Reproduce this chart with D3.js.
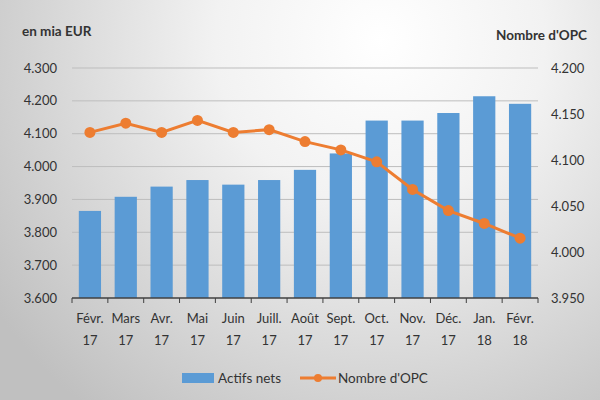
<!DOCTYPE html>
<html>
<head>
<meta charset="utf-8">
<script src="https://cdn.jsdelivr.net/npm/d3@7"></script>
<style>
  body { margin: 0; }
  text { font-family: Lato, "Noto Sans", sans-serif; fill: #333333; }
</style>
</head>
<body>
<div id="chart"></div>
<script>
// data
const months = ["Févr.", "Mars", "Avr.", "Mai", "Juin", "Juill.", "Août", "Sept.", "Oct.", "Nov.", "Déc.", "Jan.", "Févr."];
const years = ["17", "17", "17", "17", "17", "17", "17", "17", "17", "17", "17", "18", "18"];
const actifsNets = [3865, 3908, 3939, 3959, 3945, 3959, 3990, 4040, 4140, 4140, 4163, 4214, 4191];
const nombreOPC = [4130, 4140, 4130, 4143, 4130, 4133, 4120, 4111, 4098, 4068, 4045, 4031, 4015];
const leftTicks = [3600, 3700, 3800, 3900, 4000, 4100, 4200, 4300];
const rightTicks = [3950, 4000, 4050, 4100, 4150, 4200];

const width = 600, height = 400;
const margin = { top: 68, right: 62, bottom: 102, left: 72 };

const fmt = d => d3.format(",.3f")(d / 1000).replace(",", "");

const svg = d3.select("#chart")
  .append("svg")
  .attr("width", width)
  .attr("height", height);

// background gradient
const defs = svg.append("defs");
const grad = defs.append("radialGradient")
  .attr("id", "bg")
  .attr("gradientUnits", "userSpaceOnUse")
  .attr("cx", 380).attr("cy", 40).attr("r", 470);
grad.append("stop").attr("offset", "0%").attr("stop-color", "#ffffff");
grad.append("stop").attr("offset", "35%").attr("stop-color", "#f2f2f2");
grad.append("stop").attr("offset", "100%").attr("stop-color", "#c0c0c0");
svg.append("rect").attr("width", width).attr("height", height).attr("fill", "url(#bg)");

const x = d3.scaleBand()
  .domain(d3.range(months.length))
  .range([margin.left, width - margin.right])
  .paddingInner(0.38)
  .paddingOuter(0.19);

const yL = d3.scaleLinear()
  .domain([3600, 4300])
  .range([height - margin.bottom, margin.top]);

const yR = d3.scaleLinear()
  .domain([3950, 4200])
  .range([height - margin.bottom, margin.top]);

// gridlines
svg.append("g")
  .selectAll("line")
  .data(leftTicks.slice(1))
  .enter()
  .append("line")
  .attr("x1", margin.left)
  .attr("x2", width - margin.right)
  .attr("y1", d => yL(d))
  .attr("y2", d => yL(d))
  .attr("stroke", "#bdbdbd")
  .attr("stroke-width", 1);

// left axis labels
svg.append("g")
  .selectAll("text")
  .data(leftTicks)
  .enter()
  .append("text")
  .attr("x", 57)
  .attr("y", d => yL(d))
  .attr("dy", "0.35em")
  .attr("text-anchor", "end")
  .style("font-size", "13px")
  .text(fmt);

// right axis labels
svg.append("g")
  .selectAll("text")
  .data(rightTicks)
  .enter()
  .append("text")
  .attr("x", 551)
  .attr("y", d => yR(d))
  .attr("dy", "0.35em")
  .attr("text-anchor", "start")
  .style("font-size", "13px")
  .text(fmt);

// bars
svg.append("g")
  .selectAll("rect")
  .data(actifsNets)
  .enter()
  .append("rect")
  .attr("x", (d, i) => x(i))
  .attr("width", x.bandwidth())
  .attr("y", d => yL(d))
  .attr("height", d => yL(3600) - yL(d))
  .attr("fill", "#5b9bd5");

// baseline + ticks
const base = yL(3600);
svg.append("line")
  .attr("x1", margin.left).attr("x2", width - margin.right)
  .attr("y1", base).attr("y2", base)
  .attr("stroke", "#404040").attr("stroke-width", 1.5);
const step = x.step();
svg.append("g")
  .selectAll("line")
  .data(d3.range(months.length + 1))
  .enter()
  .append("line")
  .attr("x1", i => margin.left + i * step)
  .attr("x2", i => margin.left + i * step)
  .attr("y1", base)
  .attr("y2", base + 5)
  .attr("stroke", "#404040");

// x labels
const xl = svg.append("g")
  .selectAll("text")
  .data(months)
  .enter()
  .append("text")
  .attr("x", (d, i) => x(i) + x.bandwidth() / 2)
  .attr("y", 323)
  .attr("text-anchor", "middle")
  .style("font-size", "13px");
xl.append("tspan").text(d => d);
xl.append("tspan")
  .attr("x", (d, i) => x(i) + x.bandwidth() / 2)
  .attr("dy", 22)
  .text((d, i) => years[i]);

// line
const line = d3.line()
  .x((d, i) => x(i) + x.bandwidth() / 2)
  .y(d => yR(d));
svg.append("path")
  .datum(nombreOPC)
  .attr("d", line)
  .attr("fill", "none")
  .attr("stroke", "#ed7d31")
  .attr("stroke-width", 3);
svg.append("g")
  .selectAll("circle")
  .data(nombreOPC)
  .enter()
  .append("circle")
  .attr("cx", (d, i) => x(i) + x.bandwidth() / 2)
  .attr("cy", d => yR(d))
  .attr("r", 5.5)
  .attr("fill", "#ed7d31");

// axis titles
svg.append("text")
  .attr("x", 22).attr("y", 36)
  .style("font-size", "13.5px").style("font-weight", "bold")
  .text("en mia EUR");
svg.append("text")
  .attr("x", 587).attr("y", 40)
  .attr("text-anchor", "end")
  .style("font-size", "13.5px").style("font-weight", "bold")
  .text("Nombre d'OPC");

// legend
const lg = svg.append("g");
lg.append("rect")
  .attr("x", 182).attr("y", 373)
  .attr("width", 32).attr("height", 10)
  .attr("fill", "#5b9bd5");
lg.append("text")
  .attr("x", 218).attr("y", 378).attr("dy", "0.35em")
  .style("font-size", "13.5px")
  .text("Actifs nets");
lg.append("line")
  .attr("x1", 300).attr("x2", 336)
  .attr("y1", 378).attr("y2", 378)
  .attr("stroke", "#ed7d31").attr("stroke-width", 3);
lg.append("circle")
  .attr("cx", 318).attr("cy", 378).attr("r", 4)
  .attr("fill", "#ed7d31");
lg.append("text")
  .attr("x", 338).attr("y", 378).attr("dy", "0.35em")
  .style("font-size", "13.5px")
  .text("Nombre d'OPC");
</script>
</body>
</html>
